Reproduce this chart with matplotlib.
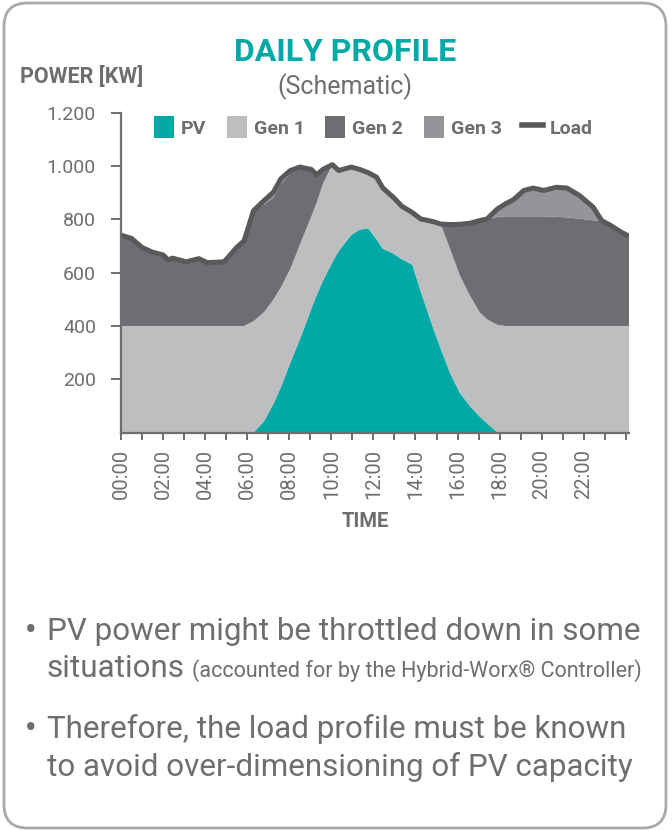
import matplotlib
matplotlib.use("Agg")
import matplotlib.pyplot as plt
from matplotlib.patches import FancyBboxPatch, Patch
from matplotlib.lines import Line2D

plt.rcParams['font.family'] = ['Roboto', 'DejaVu Sans']

# ---------------- data ----------------
hours = [0, 0.5, 1.0, 1.5, 2.0, 2.25, 2.45, 3.1, 3.7, 4.1, 4.9, 5.5, 5.85,
         6.3, 6.8, 7.25, 7.6, 8.05, 8.5, 9.05, 9.3, 9.6, 10.05, 10.35, 10.95,
         11.35, 11.75, 12.15, 12.45, 12.95, 13.35, 13.85, 14.25, 14.85, 15.2,
         15.65, 16.1, 16.6, 17.05, 17.4, 17.9, 18.3, 18.65, 19.15, 19.6, 20.1,
         20.7, 21.2, 21.8, 22.45, 22.85, 23.25, 23.75, 24.15]

load = [741, 729, 695, 677, 667, 648, 655, 641, 653, 638, 641, 695, 720,
        833, 871, 903, 953, 984, 997, 988, 968, 988, 1006, 984, 997,
        988, 976, 959, 918, 883, 850, 826, 802, 792, 783,
        781, 782, 786, 796, 802, 840, 860, 874, 909, 918, 909,
        921, 918, 890, 846, 796, 779, 754, 737]

pv = [0, 0, 0, 0, 0, 0, 0, 0, 0, 0, 0, 0, 0,
      0, 42, 108, 170, 262, 350, 465, 515, 570, 640, 682, 742,
      762, 767, 725, 690, 672, 651, 630, 530, 390, 315,
      222, 150, 98, 60, 35, 0, 0, 0, 0, 0, 0,
      0, 0, 0, 0, 0, 0, 0, 0]

gen1 = [400, 400, 400, 400, 400, 400, 400, 400, 400, 400, 400, 400, 400,
        418, 410, 392, 375, 353, 355, 347, 347, 365, 366, 302, 255,
        226, 209, 234, 228, 211, 199, 196, 272, 402, 468,
        467, 442, 414, 392, 390, 404, 400, 400, 400, 400, 400,
        400, 400, 400, 400, 400, 400, 400, 400]

gen2 = [341, 329, 295, 277, 267, 248, 255, 241, 253, 238, 241, 295, 320,
        415, 404, 383, 388, 359, 292, 176, 106, 53, 0, 0, 0,
        0, 0, 0, 0, 0, 0, 0, 0, 0, 0,
        92, 190, 274, 344, 377, 406, 412, 412, 412, 412, 412,
        410, 408, 403, 397, 396, 379, 354, 337]

gen3 = [0, 0, 0, 0, 0, 0, 0, 0, 0, 0, 0, 0, 0,
        0, 15, 20, 20, 10, 0, 0, 0, 0, 0, 0, 0,
        0, 0, 0, 0, 0, 0, 0, 0, 0, 0,
        0, 0, 0, 0, 0, 30, 48, 62, 97, 106, 97,
        111, 110, 87, 49, 0, 0, 0, 0]

series_names = ["PV", "Gen 1", "Gen 2", "Gen 3", "Load"]
y_ticks = [200, 400, 600, 800, 1000, 1200]
y_tick_labels = ["200", "400", "600", "800", "1.000", "1.200"]
x_ticks_major = [0, 2, 4, 6, 8, 10, 12, 14, 16, 18, 20, 22]
x_tick_labels = ["00:00", "02:00", "04:00", "06:00", "08:00", "10:00",
                 "12:00", "14:00", "16:00", "18:00", "20:00", "22:00"]
x_ticks_minor = list(range(0, 25))

# ---------------- style ----------------
C_PV = "#00a9a5"
C_G1 = "#bcbec0"
C_G2 = "#6d6e71"
C_G3 = "#939598"
C_LOAD = "#58595b"
C_TXT = "#6d6e71"
C_AX = "#6d6e71"

W, H = 672, 831
fig = plt.figure(figsize=(W / 100, H / 100), dpi=100)
fig.patch.set_facecolor("white")

# rounded frame
frame = FancyBboxPatch((4 / W, 3 / H), (666 - 4) / W, (828 - 3) / H,
                       boxstyle="round,pad=0,rounding_size=0.035",
                       transform=fig.transFigure, facecolor="none",
                       edgecolor="#a7a9ac", linewidth=2.0,
                       mutation_aspect=W / H)
fig.patches.append(frame)

ax_left, ax_right = 121, 629
ax_bottom, ax_top = 432.5, 113
ax = fig.add_axes([ax_left / W, 1 - ax_bottom / H,
                   (ax_right - ax_left) / W, (ax_bottom - ax_top) / H])

ax.stackplot(hours, pv, gen1, gen2, gen3,
             colors=[C_PV, C_G1, C_G2, C_G3], linewidth=0)
ax.plot(hours, load, color=C_LOAD, linewidth=3.6, solid_joinstyle="round",
        solid_capstyle="butt")

ax.set_xlim(0, 24.15)
ax.set_ylim(0, 1200)

for s in ["top", "right"]:
    ax.spines[s].set_visible(False)
for s in ["left", "bottom"]:
    ax.spines[s].set_color(C_AX)
    ax.spines[s].set_linewidth(1.6)

ax.set_yticks(y_ticks)
ax.set_yticklabels(y_tick_labels)
ax.tick_params(axis="y", length=7, width=1.4, color=C_AX, pad=11,
               labelsize=14, labelcolor=C_TXT)

ax.set_xticks(x_ticks_minor, minor=True)
ax.set_xticks(x_ticks_major)
ax.set_xticklabels(x_tick_labels, rotation=90)
ax.tick_params(axis="x", which="both", length=5, width=1.4, color=C_AX,
               direction="out")
ax.tick_params(axis="x", which="major", pad=7, labelsize=14.5,
               labelcolor=C_TXT)

ax.set_xlabel("TIME", fontsize=14.5, fontweight="bold", color=C_TXT)
ax.xaxis.set_label_coords((365 - ax_left) / (ax_right - ax_left), -0.25)

# legend
handles = [Patch(facecolor=C_PV, edgecolor="none"),
           Patch(facecolor=C_G1, edgecolor="none"),
           Patch(facecolor=C_G2, edgecolor="none"),
           Patch(facecolor=C_G3, edgecolor="none"),
           Line2D([0], [0], color=C_LOAD, linewidth=4)]
leg = fig.legend(handles, series_names, loc="center",
                 bbox_to_anchor=(373 / W, 1 - 127 / H), ncol=5,
                 frameon=False, handlelength=1.05, handleheight=1.3,
                 handletextpad=0.35, columnspacing=1.05,
                 prop={"family": "Roboto", "weight": "bold", "size": 14})
for t in leg.get_texts():
    t.set_color(C_TXT)
leg.legend_handles[4].set_linewidth(4)

# titles
fig.text(345 / W, 1 - 52 / H, "DAILY PROFILE", ha="center", va="center",
         fontsize=23, fontweight="bold", color=C_PV)
fig.text(345 / W, 1 - 87 / H, "(Schematic)", ha="center", va="center",
         fontsize=18, color=C_TXT)
fig.text(20 / W, 1 - 77 / H, "POWER [KW]", ha="left", va="center",
         fontsize=15.5, fontweight="bold", color=C_TXT)

# bullet texts
fs_big = 22.6
fw = "normal"
fig.text(25 / W, 1 - 640 / H, "\u2022", ha="left", va="baseline",
         fontsize=fs_big, fontweight="bold", color=C_TXT)
fig.text(47 / W, 1 - 640 / H, "PV power might be throttled down in some",
         ha="left", va="baseline", fontsize=fs_big, fontweight=fw, color=C_TXT)
t_sit = fig.text(47 / W, 1 - 677 / H, "situations", ha="left", va="baseline",
                 fontsize=fs_big, fontweight=fw, color=C_TXT)
fig.canvas.draw()
bb = t_sit.get_window_extent(renderer=fig.canvas.get_renderer())
fig.text((bb.x1 + 7) / W, 1 - 677 / H,
         "(accounted for by the Hybrid-Worx\u00ae Controller)",
         ha="left", va="baseline", fontsize=15.5, fontweight=fw, color=C_TXT)
fig.text(25 / W, 1 - 738 / H, "\u2022", ha="left", va="baseline",
         fontsize=fs_big, fontweight="bold", color=C_TXT)
fig.text(47 / W, 1 - 738 / H, "Therefore, the load profile must be known",
         ha="left", va="baseline", fontsize=fs_big, fontweight=fw, color=C_TXT)
fig.text(47 / W, 1 - 776 / H, "to avoid over-dimensioning of PV capacity",
         ha="left", va="baseline", fontsize=fs_big, fontweight=fw, color=C_TXT)

fig.savefig("out.png", dpi=100, facecolor="white")
